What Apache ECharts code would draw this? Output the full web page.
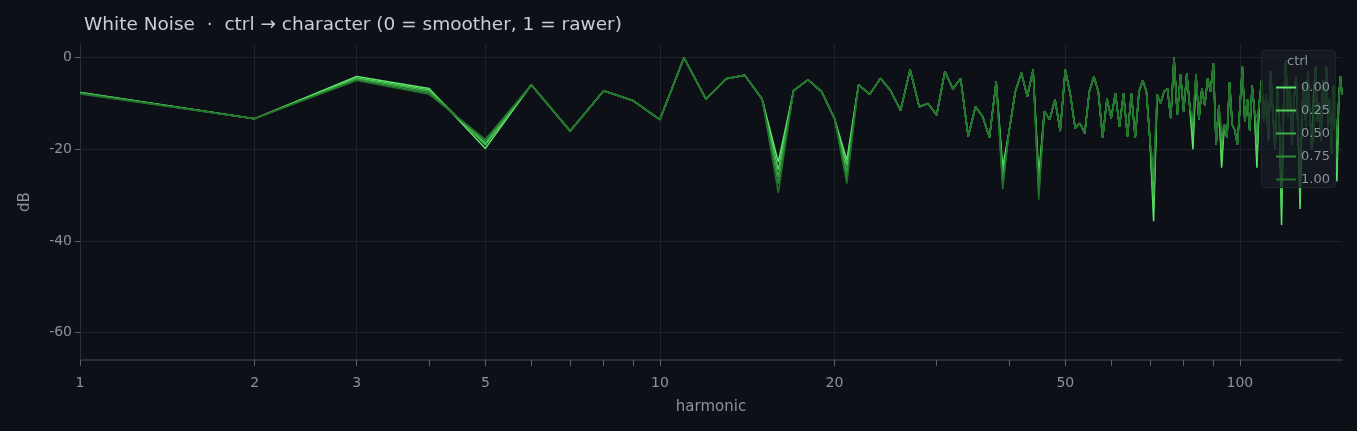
<!DOCTYPE html>
<html>
<head>
<meta charset="utf-8">
<script src="https://cdn.jsdelivr.net/npm/echarts@6/dist/echarts.min.js"></script>
<style>
    html, body { margin: 0; padding: 0; background: #0d1017; }
    #chart { width: 1357px; height: 431px; }
</style>
</head>
<body>
<div id="chart"></div>
<script>
    // ctrl = 0 magnitude in dB, harmonics 1..150
    var smooth = [
        -7.6, -13.3, -4.1, -6.7, -19.8, -5.9, -16, -7.2, -9.4, -13.5,
        0, -9, -4.6, -3.8, -9, -22.8, -7.2, -4.8, -7.4, -13.3,
        -22.4, -5.9, -8, -4.5, -7.2, -11.5, -2.6, -10.7, -10, -12.5,
        -3, -6.8, -4.5, -17.2, -10.7, -12.8, -17.4, -5.2, -24, -16,
        -7.4, -3.3, -8.5, -2.6, -26, -11.7, -13.5, -9.1, -16, -2.6,
        -8, -15.4, -14.3, -16.5, -7.4, -4.1, -7.4, -17.5, -9, -13.2,
        -7.8, -15, -7.8, -17.2, -7.8, -17.5, -7.4, -4.9, -7.4, -18.3,
        -35.7, -8.1, -9.9, -7.4, -6.7, -13.2, 0, -12.5, -3.7, -11.7,
        -3.4, -11, -20, -3.7, -13.5, -6.7, -10.4, -4.5, -7.4, -1.2,
        -19, -10.4, -24, -14.6, -17.5, -5.3, -14.6, -15.8, -19, -11,
        -2, -14, -9, -16, -6, -12, -24, -10, -5, -14,
        -8, -18, -3, -12, -20, -7, -15, -36.5, -10, -0.5,
        -13, -6, -19, -9, -4, -16, -33, -11, -6, -15,
        -3, -12, -20, -8, -2, -14, -10, -18, -5, -11,
        -2, -15, -9, -21, -6, -13, -27, -10, -4, -8
    ];
    var ctrlLabels = ['0.00', '0.25', '0.50', '0.75', '1.00'];
    var ctrlColors = ['#5fe86b', '#4fcf59', '#3eae48', '#2f8e39', '#22702b'];
    // deviations from the smooth curve, [harmonic, dB]
    var overrides = [
        [],
        [[3, -4.4], [4, -7], [5, -19], [16, -24.5], [21, -23.5], [39, -25.5], [45, -27.5],
         [71, -33], [83, -18], [93, -22], [107, -22], [118, -33], [127, -31], [147, -25]],
        [[1, -7.7], [3, -4.6], [4, -7.3], [5, -18.6], [16, -26], [21, -25], [39, -26.5], [45, -29],
         [71, -30], [83, -16], [93, -20], [107, -19], [118, -29], [127, -28], [147, -22], [134, -14]],
        [[1, -7.8], [3, -4.8], [4, -7.7], [5, -18.2], [16, -27.5], [21, -26.5], [39, -27.8], [45, -30],
         [71, -27], [83, -14], [93, -18], [107, -16], [118, -25], [127, -24], [147, -18], [134, -16]],
        [[1, -7.9], [3, -5], [4, -8], [5, -17.8], [16, -29.5], [21, -27.5], [39, -28.7], [45, -31],
         [71, -24], [83, -13], [93, -16], [107, -13], [118, -21], [127, -20], [147, -15], [134, -18]]
    ];
    var xMajor = [1, 2, 3, 5, 10, 20, 50, 100];
    var xMinor = [4, 6, 7, 8, 9, 30, 40, 60, 70, 80, 90];
    var yTicks = [-60, -40, -20, 0];

    function buildSeries(i) {
        var vals = smooth.slice();
        overrides[i].forEach(function(o) { vals[o[0] - 1] = o[1]; });
        return {
            name: ctrlLabels[i],
            type: 'line',
            showSymbol: false,
            z: 2 + i,
            lineStyle: { width: 1.5, color: ctrlColors[i] },
            itemStyle: { color: ctrlColors[i] },
            data: vals.map(function(v, k) { return [k + 1, v]; })
        };
    }

    var chart = echarts.init(document.getElementById('chart'));
    var series = [];
    for (var i = 0; i < 5; i++) series.push(buildSeries(i));

    var axisText = { color: '#8b929c', fontSize: 14, fontFamily: 'DejaVu Sans' };

    chart.setOption({
        backgroundColor: '#0d1017',
        animation: false,
        title: {
            text: 'White Noise  ·  ctrl → character (0 = smoother, 1 = rawer)',
            left: 79, top: 11,
            textStyle: { color: '#c9ced6', fontSize: 18.5, fontWeight: 'normal', fontFamily: 'DejaVu Sans' }
        },
        grid: { left: 80, right: 15, top: 44, bottom: 71 },
        legend: {
            data: ctrlLabels,
            orient: 'vertical',
            right: 22, top: 76, z: 30,
            itemWidth: 20, itemHeight: 2, itemGap: 10,
            icon: 'rect',
            textStyle: { color: '#8b929c', fontSize: 13, fontFamily: 'DejaVu Sans' }
        },
        graphic: [
            { type: 'rect', right: 21, top: 50, z: 20, shape: { width: 74, height: 137, r: 3 },
              style: { fill: 'rgba(24,29,37,0.7)', stroke: '#1f252e' } },
            { type: 'text', left: 1287, top: 55, z: 30,
              style: { text: 'ctrl', fill: '#8b929c', font: '13px DejaVu Sans' } }
        ],
        xAxis: [{
            type: 'log', logBase: 10, min: 1, max: 150,
            name: 'harmonic', nameLocation: 'middle', nameGap: 40,
            nameTextStyle: { color: '#8b929c', fontSize: 15, fontFamily: 'DejaVu Sans' },
            axisLine: { onZero: false, lineStyle: { color: '#2a3038', width: 2 } },
            axisTick: { customValues: xMajor, length: 6, lineStyle: { color: '#5a616b' } },
            axisLabel: Object.assign({ customValues: xMajor, margin: 16 }, axisText),
            splitLine: { show: true, lineStyle: { color: '#1e232b' } }
        }, {
            type: 'log', logBase: 10, min: 1, max: 150, position: 'bottom',
            axisLine: { show: false, onZero: false },
            axisTick: { customValues: xMinor, length: 6, lineStyle: { color: '#5a616b' } },
            axisLabel: { show: false },
            splitLine: { show: false }
        }],
        yAxis: {
            type: 'value', min: -66, max: 3,
            name: 'dB', nameLocation: 'middle', nameGap: 47,
            nameTextStyle: { color: '#8b929c', fontSize: 15, fontFamily: 'DejaVu Sans' },
            axisLine: { show: true, lineStyle: { color: '#2a3038' } },
            axisTick: { show: true, customValues: yTicks, length: 5, lineStyle: { color: '#5a616b' } },
            axisLabel: Object.assign({ customValues: yTicks }, axisText),
            splitLine: { show: true, lineStyle: { color: '#1e232b' } }
        },
        series: series
    });
</script>
</body>
</html>
